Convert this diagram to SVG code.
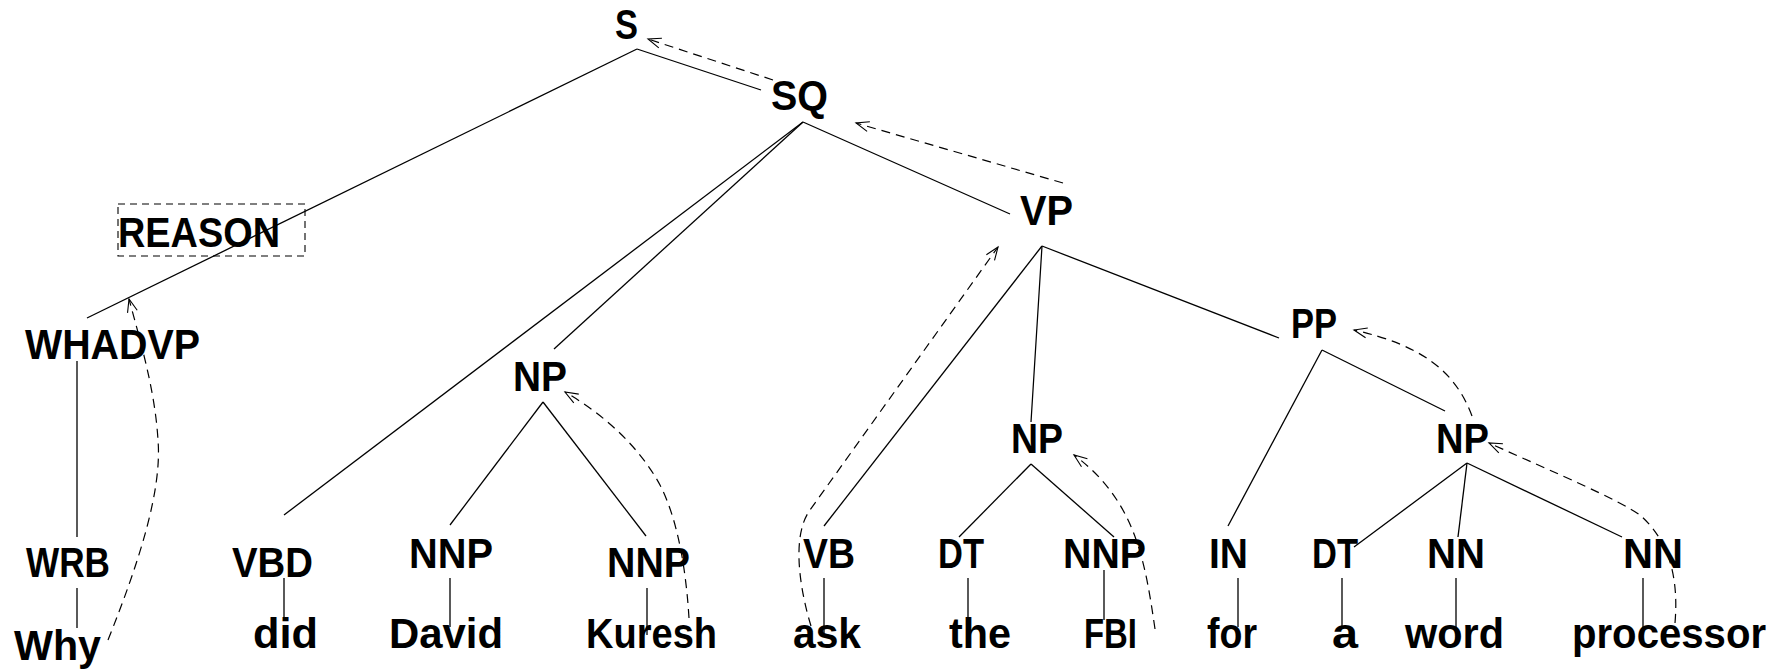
<svg xmlns="http://www.w3.org/2000/svg" width="1778" height="669" viewBox="0 0 1778 669">
<style>
text{font-family:"Liberation Sans",Arial,sans-serif;font-weight:bold;font-size:42px;fill:#000}
.e{stroke:#000;stroke-width:1.3;fill:none}
.d{stroke:#000;stroke-width:1.2;fill:none;stroke-dasharray:9 6;marker-end:url(#ah)}
.box{stroke:#000;stroke-width:1.1;fill:none;stroke-dasharray:7 5}
</style>
<defs>
<marker id="ah" markerUnits="userSpaceOnUse" markerWidth="16" markerHeight="12" refX="13" refY="5" orient="auto" overflow="visible">
<path d="M0,0 L13,5 L0,10" fill="none" stroke="#000" stroke-width="1.1"/>
</marker>
</defs>
<rect width="1778" height="669" fill="#fff"/>
<g id="connectors">
<line class="e" x1="637" y1="49" x2="87" y2="318"/>
<line class="e" x1="637" y1="49" x2="761" y2="90"/>
<line class="e" x1="803" y1="122" x2="284" y2="515"/>
<line class="e" x1="803" y1="122" x2="554" y2="349"/>
<line class="e" x1="803" y1="122" x2="1010" y2="214"/>
<line class="e" x1="77" y1="361" x2="77" y2="537"/>
<line class="e" x1="77" y1="588" x2="77" y2="628"/>
<line class="e" x1="543" y1="402" x2="450" y2="525"/>
<line class="e" x1="543" y1="402" x2="646" y2="536"/>
<line class="e" x1="284" y1="578" x2="284" y2="620"/>
<line class="e" x1="450" y1="578" x2="450" y2="627"/>
<line class="e" x1="647" y1="588" x2="647" y2="635"/>
<line class="e" x1="1042" y1="246" x2="824" y2="526"/>
<line class="e" x1="1042" y1="246" x2="1031" y2="422"/>
<line class="e" x1="1042" y1="246" x2="1279" y2="338"/>
<line class="e" x1="824" y1="578" x2="824" y2="633"/>
<line class="e" x1="1031" y1="464" x2="959" y2="537"/>
<line class="e" x1="1031" y1="464" x2="1114" y2="537"/>
<line class="e" x1="968" y1="578" x2="968" y2="620"/>
<line class="e" x1="1104" y1="570" x2="1104" y2="620"/>
<line class="e" x1="1322" y1="350" x2="1228" y2="526"/>
<line class="e" x1="1322" y1="350" x2="1445" y2="411"/>
<line class="e" x1="1467" y1="463" x2="1354" y2="547"/>
<line class="e" x1="1467" y1="463" x2="1458" y2="537"/>
<line class="e" x1="1467" y1="463" x2="1622" y2="537"/>
<line class="e" x1="1238" y1="578" x2="1238" y2="627"/>
<line class="e" x1="1342" y1="578" x2="1342" y2="627"/>
<line class="e" x1="1456" y1="578" x2="1456" y2="627"/>
<line class="e" x1="1643" y1="578" x2="1643" y2="628"/>
<path class="d" d="M773,80 L648,39"/>
<path class="d" d="M1063,183 L856,123"/>
<path class="d" d="M108,640 C140,560 162,490 158,440 C155,390 140,340 129,299"/>
<path class="d" d="M689,618 C686,570 678,520 660,485 C640,448 605,415 565,392"/>
<path class="d" d="M811,626 C800,590 791,536 810,510 L998,247"/>
<path class="d" d="M1155,629 C1145,560 1135,500 1074,455"/>
<path class="d" d="M1675,623 C1679,575 1668,540 1640,515 C1615,498 1560,475 1489,443"/>
<path class="d" d="M1472,416 C1455,370 1420,345 1354,330"/>
</g>
<g id="n-S"><text x="615" y="39" textLength="23" lengthAdjust="spacingAndGlyphs">S</text></g>
<g id="n-SQ"><text x="771" y="110" textLength="57" lengthAdjust="spacingAndGlyphs">SQ</text></g>
<g id="n-VP"><text x="1020" y="225" textLength="53" lengthAdjust="spacingAndGlyphs">VP</text></g>
<g id="n-REASON"><rect class="box" x="118" y="204" width="187" height="52"/><text x="118" y="247" textLength="162" lengthAdjust="spacingAndGlyphs">REASON</text></g>
<g id="n-WHADVP"><text x="25" y="359" textLength="175" lengthAdjust="spacingAndGlyphs">WHADVP</text></g>
<g id="n-NP1"><text x="513" y="391" textLength="54" lengthAdjust="spacingAndGlyphs">NP</text></g>
<g id="n-NP2"><text x="1011" y="453" textLength="52" lengthAdjust="spacingAndGlyphs">NP</text></g>
<g id="n-PP"><text x="1291" y="338" textLength="46" lengthAdjust="spacingAndGlyphs">PP</text></g>
<g id="n-NP3"><text x="1436" y="453" textLength="53" lengthAdjust="spacingAndGlyphs">NP</text></g>
<g id="n-WRB"><text x="26" y="577" textLength="84" lengthAdjust="spacingAndGlyphs">WRB</text></g>
<g id="n-VBD"><text x="232" y="577" textLength="81" lengthAdjust="spacingAndGlyphs">VBD</text></g>
<g id="n-NNP1"><text x="409" y="568" textLength="84" lengthAdjust="spacingAndGlyphs">NNP</text></g>
<g id="n-NNP2"><text x="607" y="577" textLength="83" lengthAdjust="spacingAndGlyphs">NNP</text></g>
<g id="n-VB"><text x="803" y="568" textLength="52" lengthAdjust="spacingAndGlyphs">VB</text></g>
<g id="n-DT1"><text x="938" y="568" textLength="46" lengthAdjust="spacingAndGlyphs">DT</text></g>
<g id="n-NNP3"><text x="1063" y="568" textLength="83" lengthAdjust="spacingAndGlyphs">NNP</text></g>
<g id="n-IN"><text x="1209" y="568" textLength="39" lengthAdjust="spacingAndGlyphs">IN</text></g>
<g id="n-DT2"><text x="1312" y="568" textLength="46" lengthAdjust="spacingAndGlyphs">DT</text></g>
<g id="n-NN1"><text x="1427" y="568" textLength="58" lengthAdjust="spacingAndGlyphs">NN</text></g>
<g id="n-NN2"><text x="1623" y="568" textLength="60" lengthAdjust="spacingAndGlyphs">NN</text></g>
<g id="w-Why"><text x="14" y="660" textLength="87" lengthAdjust="spacingAndGlyphs">Why</text></g>
<g id="w-did"><text x="253" y="648" textLength="65" lengthAdjust="spacingAndGlyphs">did</text></g>
<g id="w-David"><text x="389" y="648" textLength="114" lengthAdjust="spacingAndGlyphs">David</text></g>
<g id="w-Kuresh"><text x="586" y="648" textLength="131" lengthAdjust="spacingAndGlyphs">Kuresh</text></g>
<g id="w-ask"><text x="793" y="648" textLength="68" lengthAdjust="spacingAndGlyphs">ask</text></g>
<g id="w-the"><text x="949" y="648" textLength="62" lengthAdjust="spacingAndGlyphs">the</text></g>
<g id="w-FBI"><text x="1084" y="648" textLength="53" lengthAdjust="spacingAndGlyphs">FBI</text></g>
<g id="w-for"><text x="1207" y="648" textLength="50" lengthAdjust="spacingAndGlyphs">for</text></g>
<g id="w-a"><text x="1332" y="648" textLength="26" lengthAdjust="spacingAndGlyphs">a</text></g>
<g id="w-word"><text x="1405" y="648" textLength="99" lengthAdjust="spacingAndGlyphs">word</text></g>
<g id="w-processor"><text x="1572" y="648" textLength="194" lengthAdjust="spacingAndGlyphs">processor</text></g>
</svg>
